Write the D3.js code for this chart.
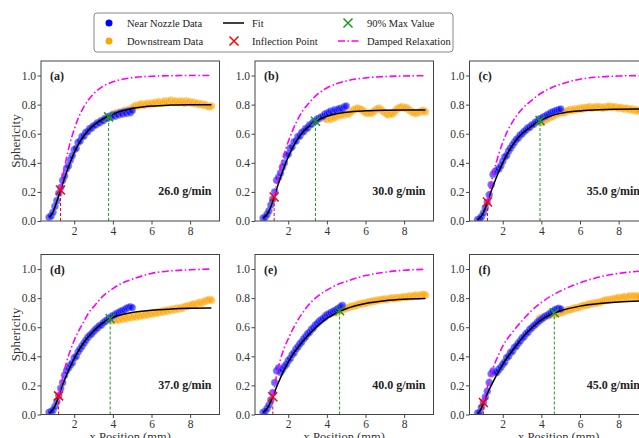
<!DOCTYPE html>
<html><head><meta charset="utf-8">
<script src="https://cdn.jsdelivr.net/npm/d3@7"></script>
<style>
body{margin:0;background:#fff;}
svg{display:block;font-family:"Liberation Serif","Times New Roman",Times,serif;}
</style>
</head><body>
<svg id="c" width="639" height="438"></svg>
<script>
// ---------- DATA ----------
const panelLabels = ["(a)","(b)","(c)","(d)","(e)","(f)"];
const rateLabels = ["26.0 g/min","30.0 g/min","35.0 g/min","37.0 g/min","40.0 g/min","45.0 g/min"];
const xTicks = [2,4,6,8];
const yTicks = [0.0,0.2,0.4,0.6,0.8,1.0];

const nearX = [0.7,0.8,0.9,1.0,1.1,1.2,1.3,1.4,1.5,1.6,
               1.7,1.8,1.9,2.0,2.1,2.2,2.3,2.4,2.5,2.6,
               2.7,2.8,2.9,3.0,3.1,3.2,3.3,3.4,3.5,3.6,
               3.7,3.8,3.9,4.0,4.1,4.2,4.3,4.4,4.5,4.6,
               4.7,4.8,4.9,5.0];
const farX = [3.9,4.0,4.1,4.2,4.3,4.4,4.5,4.6,4.7,4.8,
              4.9,5.0,5.1,5.2,5.3,5.4,5.5,5.6,5.7,5.8,
              5.9,6.0,6.1,6.2,6.3,6.4,6.5,6.6,6.7,6.8,
              6.9,7.0,7.1,7.2,7.3,7.4,7.5,7.6,7.7,7.8,
              7.9,8.0,8.1,8.2,8.3,8.4,8.5,8.6,8.7,8.8,
              8.9,9.0,9.1];

const nearA = [0.025,0.035,0.06,0.10,0.14,0.19,0.23,0.28,0.31,0.36,
               0.38,0.42,0.45,0.49,0.50,0.54,0.55,0.58,0.585,0.61,
               0.615,0.635,0.64,0.655,0.66,0.675,0.675,0.69,0.69,0.705,
               0.705,0.72,0.715,0.73,0.72,0.735,0.73,0.745,0.735,0.75,
               0.74,0.755,0.745,0.76];
const nearB = [0.02,0.025,0.045,0.07,0.11,0.15,0.20,0.28,0.30,0.33,
               0.37,0.40,0.45,0.46,0.50,0.51,0.545,0.55,0.58,0.585,
               0.61,0.615,0.635,0.64,0.66,0.665,0.68,0.685,0.70,0.705,
               0.715,0.72,0.735,0.74,0.745,0.755,0.75,0.765,0.76,0.77,
               0.775,0.77,0.785,0.79];
const nearC = [0.01,0.015,0.03,0.055,0.09,0.13,0.18,0.25,0.32,0.34,
               0.35,0.36,0.38,0.41,0.44,0.45,0.48,0.50,0.52,0.54,
               0.56,0.57,0.59,0.60,0.615,0.625,0.64,0.645,0.66,0.665,
               0.68,0.685,0.70,0.705,0.715,0.72,0.73,0.735,0.745,0.75,
               0.755,0.76,0.765,0.77];
const nearD = [0.015,0.02,0.03,0.055,0.09,0.13,0.18,0.22,0.27,0.30,
               0.32,0.34,0.355,0.39,0.40,0.43,0.45,0.47,0.49,0.51,
               0.53,0.545,0.555,0.57,0.585,0.595,0.61,0.615,0.63,0.64,
               0.65,0.66,0.67,0.68,0.685,0.695,0.70,0.71,0.715,0.72,
               0.73,0.735,0.74,0.735];
const nearE = [0.015,0.02,0.04,0.065,0.10,0.15,0.22,0.30,0.32,0.29,
               0.31,0.33,0.345,0.37,0.385,0.41,0.425,0.45,0.465,0.485,
               0.50,0.52,0.535,0.555,0.565,0.585,0.595,0.615,0.625,0.64,
               0.65,0.66,0.67,0.685,0.69,0.70,0.705,0.715,0.72,0.73,
               0.74,0.75,null,null];
const nearF = [0.01,0.015,0.05,0.085,0.12,0.16,0.22,0.28,0.30,0.29,
               0.29,0.31,0.325,0.345,0.36,0.39,0.40,0.425,0.435,0.46,
               0.47,0.49,0.505,0.525,0.535,0.555,0.565,0.585,0.595,0.61,
               0.62,0.635,0.645,0.655,0.665,0.675,0.68,0.69,0.70,0.71,
               0.72,0.725,0.73,0.725];

const farA = [0.72,0.735,0.73,0.745,0.74,0.75,0.745,0.76,0.755,0.765,
              0.76,0.775,0.785,0.795,0.79,0.80,0.805,0.795,0.80,0.81,
              0.80,0.81,0.805,0.815,0.81,0.82,0.81,0.815,0.825,0.815,
              0.82,0.83,0.815,0.825,0.82,0.815,0.825,0.82,0.81,0.825,
              0.815,0.82,0.81,0.815,0.805,0.81,0.80,0.805,0.795,0.80,
              0.79,0.785,0.79];
const farB = [0.705,0.70,0.71,0.70,0.715,0.71,0.72,0.73,0.725,0.735,
              0.73,0.74,0.735,0.745,0.755,0.765,0.77,0.775,0.77,0.765,
              0.755,0.745,0.74,0.745,0.74,0.75,0.76,0.77,0.775,0.765,
              0.755,0.745,0.735,0.73,0.74,0.735,0.75,0.765,0.775,0.78,
              0.785,0.775,0.78,0.77,0.76,0.75,0.745,0.74,0.745,0.75,
              0.755,0.76,0.75];
const farC = [0.68,0.675,0.69,0.695,0.70,0.71,0.715,0.72,0.73,0.735,
              0.74,0.745,0.75,0.745,0.755,0.76,0.765,0.76,0.77,0.765,
              0.77,0.775,0.77,0.78,0.775,0.78,0.785,0.775,0.78,0.785,
              0.78,0.785,0.78,0.775,0.785,0.78,0.79,0.785,0.78,0.785,
              0.78,0.775,0.78,0.775,0.77,0.775,0.77,0.765,0.77,0.76,
              0.765,0.755,0.76];
const farD = [0.65,0.645,0.65,0.655,0.65,0.66,0.655,0.665,0.66,0.67,
              0.665,0.67,0.675,0.67,0.68,0.675,0.685,0.68,0.69,0.685,
              0.695,0.69,0.70,0.695,0.705,0.70,0.71,0.705,0.715,0.71,
              0.72,0.715,0.725,0.72,0.73,0.725,0.735,0.73,0.74,0.745,
              0.745,0.75,0.755,0.76,0.755,0.765,0.77,0.765,0.775,0.78,
              0.785,0.79,0.785];
const farE = [0.68,0.685,0.69,0.695,0.70,0.705,0.70,0.71,0.715,0.72,
              0.725,0.73,0.735,0.74,0.745,0.745,0.75,0.755,0.76,0.76,
              0.765,0.765,0.77,0.775,0.775,0.78,0.78,0.785,0.785,0.79,
              0.79,0.795,0.79,0.795,0.80,0.80,0.795,0.805,0.80,0.805,
              0.805,0.81,0.805,0.81,0.815,0.81,0.815,0.82,0.815,0.82,
              0.82,0.825,0.82];
const farF = [0.66,0.665,0.67,0.675,0.68,0.68,0.685,0.69,0.69,0.695,
              0.70,0.70,0.705,0.71,0.715,0.72,0.72,0.725,0.73,0.735,
              0.735,0.74,0.745,0.75,0.75,0.755,0.76,0.76,0.765,0.765,
              0.77,0.77,0.775,0.78,0.785,0.785,0.79,0.79,0.795,0.795,
              0.80,0.805,0.80,0.805,0.81,0.805,0.81,0.815,0.81,0.815,
              0.81,0.815,0.81];

const fitX = [0.7,0.8,0.9,1.0,1.1,1.2,1.3,1.4,1.5,1.6,1.8,2.0,2.25,2.5,2.75,3.0,3.5,4.0,4.5,5.0,6.0,7.0,8.0,9.1];
const fitA = [0.025,0.04,0.06,0.095,0.135,0.175,0.215,0.255,0.295,0.333,0.405,0.47,0.535,0.585,0.625,0.657,0.703,0.735,0.758,0.773,0.79,0.797,0.80,0.80];
const fitB = [0.02,0.03,0.045,0.068,0.098,0.135,0.178,0.22,0.26,0.30,0.375,0.44,0.51,0.565,0.61,0.643,0.692,0.72,0.737,0.748,0.758,0.762,0.763,0.763];
const fitC = [0.01,0.02,0.035,0.058,0.09,0.127,0.167,0.205,0.24,0.275,0.34,0.40,0.465,0.52,0.565,0.60,0.652,0.695,0.723,0.74,0.757,0.765,0.768,0.77];
const fitD = [0.01,0.02,0.035,0.058,0.09,0.13,0.168,0.205,0.238,0.27,0.33,0.385,0.445,0.495,0.538,0.573,0.632,0.668,0.688,0.702,0.717,0.725,0.73,0.733];
const fitE = [0.015,0.025,0.04,0.062,0.09,0.122,0.155,0.19,0.222,0.252,0.31,0.36,0.415,0.46,0.502,0.54,0.607,0.66,0.698,0.727,0.763,0.782,0.792,0.797];
const fitF = [0.005,0.02,0.045,0.08,0.113,0.143,0.172,0.198,0.224,0.25,0.298,0.345,0.395,0.44,0.483,0.525,0.595,0.65,0.688,0.713,0.745,0.763,0.774,0.78];

const dampXA = [1.29,1.4,1.5,1.75,2.0,2.25,2.5,2.75,3.0,3.5,4.0,4.5,5.0,6.0,7.0,8.0,9.1];
const dampA  = [0.213,0.30,0.37,0.52,0.63,0.72,0.785,0.835,0.874,0.927,0.957,0.975,0.985,0.995,0.999,1.0,1.0];
const dampXB = [1.27,1.5,1.75,2.0,2.25,2.5,2.75,3.0,3.5,4.0,4.5,5.0,6.0,7.0,8.0,9.1];
const dampB  = [0.165,0.31,0.44,0.545,0.63,0.70,0.757,0.80,0.87,0.914,0.943,0.963,0.984,0.993,0.997,0.999];
const dampXC = [1.21,1.5,1.75,2.0,2.25,2.5,2.75,3.0,3.5,4.0,4.5,5.0,6.0,7.0,8.0,9.1];
const dampC  = [0.13,0.32,0.44,0.54,0.62,0.68,0.73,0.77,0.83,0.88,0.915,0.94,0.975,0.99,0.997,1.0];
const dampXD = [1.19,1.4,1.6,1.8,2.0,2.25,2.5,2.75,3.0,3.5,4.0,4.5,5.0,6.0,7.0,8.0,9.1];
const dampD  = [0.128,0.25,0.36,0.44,0.51,0.58,0.64,0.70,0.74,0.815,0.865,0.905,0.93,0.97,0.988,0.995,1.0];
const dampXE = [1.2,1.4,1.6,1.8,2.0,2.25,2.5,2.75,3.0,3.5,4.0,4.5,5.0,6.0,7.0,8.0,9.1];
const dampE  = [0.122,0.27,0.38,0.46,0.52,0.59,0.65,0.70,0.745,0.81,0.855,0.89,0.915,0.955,0.978,0.992,0.998];
const dampXF = [1.0,1.25,1.5,1.75,2.0,2.5,3.0,3.5,4.0,4.5,5.0,6.0,7.0,8.0,9.1];
const dampF  = [0.083,0.21,0.32,0.40,0.47,0.565,0.645,0.715,0.77,0.815,0.85,0.905,0.945,0.97,0.985];

const inflX = [1.29,1.27,1.21,1.19,1.20,1.00];
const inflY = [0.213,0.165,0.13,0.128,0.122,0.083];
const maxX  = [3.78,3.41,3.93,3.86,4.66,4.67];
const maxY  = [0.716,0.686,0.69,0.66,0.713,0.70];

const legendLabels = ["Near Nozzle Data","Downstream Data","Fit","Inflection Point","90% Max Value","Damped Relaxation"];

// ---------- BUILD ----------
const nearYs = [nearA,nearB,nearC,nearD,nearE,nearF];
const farYs = [farA,farB,farC,farD,farE,farF];
const fitYs = [fitA,fitB,fitC,fitD,fitE,fitF];
const dampXs = [dampXA,dampXB,dampXC,dampXD,dampXE,dampXF];
const dampYs = [dampA,dampB,dampC,dampD,dampE,dampF];

const BLUE="#0000ff", ORANGE="#ffa500", MAG="#ff00ff", RED="#ff0000", GREEN="#1a9a1a";
const TXT="#333";
const svg = d3.select("#c");
const cols=[41,255,469.5], rowsT=[61,254.5], W=178.5, H=160;
const xDomain=[0.28,9.52], yDomain=[0,1.1];

function xMark(g, cx, cy, color, s){
  g.append("path").attr("d",`M${cx-s},${cy-s}L${cx+s},${cy+s}M${cx-s},${cy+s}L${cx+s},${cy-s}`)
   .attr("stroke",color).attr("stroke-width",1.5).attr("fill","none");
}

panelLabels.forEach((lab,i)=>{
  const c=i%3, r=Math.floor(i/3);
  const L=cols[c], T=rowsT[r];
  const x=d3.scaleLinear().domain(xDomain).range([L,L+W]);
  const y=d3.scaleLinear().domain(yDomain).range([T+H,T]);
  const g=svg.append("g");
  const cid="clip"+i;
  svg.append("clipPath").attr("id",cid).append("rect").attr("x",L).attr("y",T).attr("width",W).attr("height",H);
  const pg=g.append("g").attr("clip-path",`url(#${cid})`);

  const far = farX.map((v,k)=>[v,farYs[i][k]]).filter(d=>d[1]!=null);
  const near = nearX.map((v,k)=>[v,nearYs[i][k]]).filter(d=>d[1]!=null);
  pg.selectAll(".o").data(far).join("circle")
    .attr("cx",d=>x(d[0])).attr("cy",d=>y(d[1])).attr("r",3.7)
    .attr("fill",ORANGE).attr("fill-opacity",0.6).attr("stroke","#ffd9a0").attr("stroke-width",0.7).attr("stroke-opacity",0.6);
  pg.selectAll(".b").data(near).join("circle")
    .attr("cx",d=>x(d[0])).attr("cy",d=>y(d[1])).attr("r",3.6)
    .attr("fill",BLUE).attr("fill-opacity",0.58).attr("stroke","#a0a0ff").attr("stroke-width",0.7).attr("stroke-opacity",0.6);

  const line=d3.line().x(d=>x(d[0])).y(d=>y(d[1])).curve(d3.curveMonotoneX);
  pg.append("path").datum(fitX.map((v,k)=>[v,fitYs[i][k]]))
    .attr("d",line).attr("fill","none").attr("stroke","#000").attr("stroke-width",1.5);
  pg.append("path").datum(dampXs[i].map((v,k)=>[v,dampYs[i][k]]))
    .attr("d",line).attr("fill","none").attr("stroke",MAG).attr("stroke-width",1.6)
    .attr("stroke-dasharray","7,2.5,1.5,2.5");

  pg.append("line").attr("x1",x(inflX[i])).attr("x2",x(inflX[i])).attr("y1",y(0)).attr("y2",y(inflY[i]))
    .attr("stroke",RED).attr("stroke-width",1).attr("stroke-dasharray","3,2");
  pg.append("line").attr("x1",x(maxX[i])).attr("x2",x(maxX[i])).attr("y1",y(0)).attr("y2",y(maxY[i]))
    .attr("stroke",GREEN).attr("stroke-width",1).attr("stroke-dasharray","3,2");
  xMark(pg, x(inflX[i]), y(inflY[i]), RED, 4.5);
  xMark(pg, x(maxX[i]), y(maxY[i]), GREEN, 4.5);

  // axes
  const ax=g.append("g").attr("transform",`translate(0,${T+H})`)
    .call(d3.axisBottom(x).tickValues(xTicks).tickSize(3.5).tickPadding(2).tickFormat(d3.format("d")));
  const ay=g.append("g").attr("transform",`translate(${L},0)`)
    .call(d3.axisLeft(y).tickValues(yTicks).tickSize(3.5).tickPadding(1.5).tickFormat(d3.format(".1f")));
  [ax,ay].forEach(a=>{
    a.select(".domain").remove();
    a.selectAll("line").attr("stroke","#444");
    a.selectAll("text").attr("fill",TXT).style("font-size","11.5px").style("font-family",'"Liberation Serif",serif');
  });
  g.append("rect").attr("x",L).attr("y",T).attr("width",W).attr("height",H)
    .attr("fill","none").attr("stroke","#444").attr("stroke-width",1);

  g.append("text").attr("x",L+9).attr("y",T+19).text(lab)
    .attr("font-weight","bold").attr("font-size","12px").attr("fill","#222");
  g.append("text").attr("x",L+W-8).attr("y",T+H-26).attr("text-anchor","end").text(rateLabels[i])
    .attr("font-weight","bold").attr("font-size","12px").attr("fill","#222");

  if(c===0){
    g.append("text").attr("transform",`translate(19.5,${T+H/2}) rotate(-90)`).attr("text-anchor","middle")
      .text("Sphericity").attr("font-size","13px").attr("fill",TXT);
  }
  if(r===1){
    g.append("text").attr("x",L+W/2).attr("y",441).attr("text-anchor","middle")
      .text("x Position (mm)").attr("font-size","12.5px").attr("fill",TXT);
  }
});

// ---------- LEGEND ----------
const lg=svg.append("g");
lg.append("rect").attr("x",94).attr("y",13).attr("width",359).attr("height",39).attr("rx",3)
  .attr("fill","#fff").attr("stroke","#888").attr("stroke-width",1);
const ly=[23,41];
lg.append("circle").attr("cx",109).attr("cy",ly[0]).attr("r",3.5).attr("fill",BLUE);
lg.append("circle").attr("cx",109).attr("cy",ly[1]).attr("r",3.5).attr("fill",ORANGE);
lg.append("line").attr("x1",223).attr("x2",244).attr("y1",ly[0]).attr("y2",ly[0]).attr("stroke","#000").attr("stroke-width",1.5);
xMark(lg,234,ly[1],RED,4.5);
xMark(lg,348,ly[0],GREEN,4.5);
lg.append("line").attr("x1",338).attr("x2",359).attr("y1",ly[1]).attr("y2",ly[1]).attr("stroke",MAG).attr("stroke-width",1.6).attr("stroke-dasharray","7,2.5,1.5,2.5");
const lx=[127,127,252,252,367,367];
legendLabels.forEach((t,k)=>{
  lg.append("text").attr("x",lx[k]).attr("y",ly[k%2]+3.7).text(t).attr("font-size","10.5px").attr("fill","#222");
});
</script>
</body></html>
